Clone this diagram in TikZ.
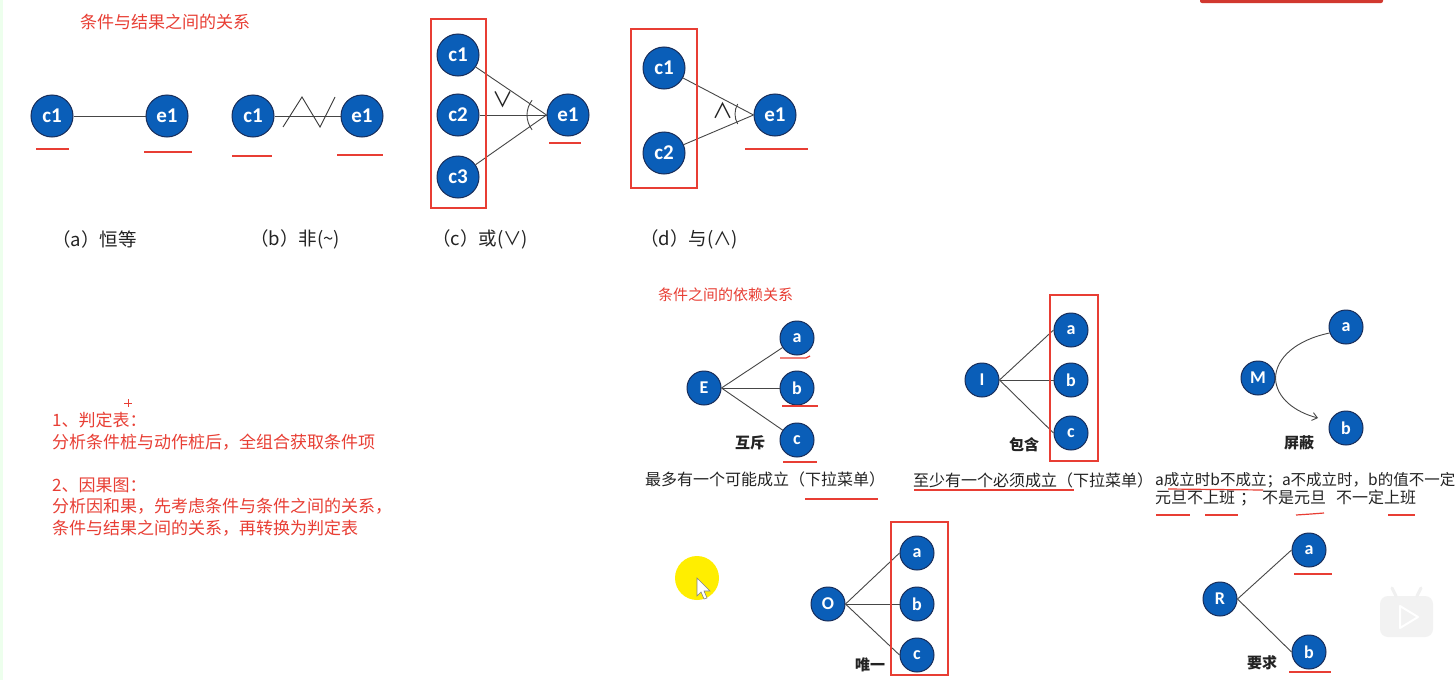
\documentclass[tikz,border=0pt]{standalone}
\usepackage{fontspec}
\setmainfont{Noto Sans CJK SC}
\newfontfamily\cjk{Noto Sans CJK SC}
\newfontfamily\lat{Carlito}
\usetikzlibrary{arrows.meta}
\definecolor{rd}{RGB}{232,62,52}
\definecolor{nodefill}{RGB}{10,94,184}
\definecolor{nodeline}{RGB}{24,45,90}
\definecolor{txt}{RGB}{35,35,35}
\definecolor{ln}{RGB}{70,70,70}
\definecolor{cursorYellow}{RGB}{255,238,0}
\begin{document}
\begin{tikzpicture}[x=1pt,y=-1pt,
  bigc/.style={circle,fill=nodefill,draw=nodeline,line width=1pt,minimum size=42pt,inner sep=0pt,text=white,font=\lat\bfseries\fontsize{21}{21}\selectfont},
  smc/.style={bigc,minimum size=34pt,font=\lat\bfseries\fontsize{18}{18}\selectfont},
  conn/.style={draw=ln,line width=0.9pt},
  ul/.style={draw=rd,line width=1.2pt},
  redbox/.style={draw=rd,line width=1.3pt},
  captxt/.style={font=\cjk\fontsize{18.5}{18.5}\selectfont,text=txt,anchor=west,inner sep=0pt},
  redtxt/.style={font=\cjk\fontsize{17}{17}\selectfont,text=rd,anchor=west,inner sep=0pt},
  desc/.style={font=\cjk\fontsize{16}{16}\selectfont,text=txt,anchor=west,inner sep=0pt},
  tagtxt/.style={font=\cjk\bfseries\fontsize{15}{15}\selectfont,text=txt,inner sep=0pt},
  symtxt/.style={font=\cjk\fontsize{21}{21}\selectfont,text=txt,inner sep=0pt}
]
\useasboundingbox (0,0) rectangle (1456,680);
\fill[white] (0,0) rectangle (1456,680);
\fill[green!7] (0,0) rectangle (3,680);
% top-right red bar
\fill[rd!90!black,rounded corners=2pt] (1200,-4) rectangle (1383,3);

% title
\node[redtxt] (title) at (80,22) {条件与结果之间的关系};

% (a)
\node[bigc] (ac) at (52,116) {c1};
\node[bigc] (ae) at (167,116) {e1};
\draw[conn] (ac) -- (ae);
\draw[ul] (36,149) -- (69,149);
\draw[ul] (144,152) -- (192,152);
\node[captxt] (acap) at (52,239) {（a）恒等};

% (b)
\node[bigc] (bc) at (253,116) {c1};
\node[bigc] (be) at (362,116) {e1};
\draw[conn] (bc) -- (be);
\draw[draw=ln!80!black,line width=0.9pt] (283,127) -- (302,97) -- (320,127) -- (335,97);
\draw[ul] (232,156) -- (272,156);
\draw[ul] (337,155) -- (383,155);
\node[captxt] (bcap) at (250,239) {（b）非(\textasciitilde)};

% (c)
\node[bigc] (cc1) at (458,55) {c1};
\node[bigc] (cc2) at (458,115) {c2};
\node[bigc] (cc3) at (458,177) {c3};
\node[bigc] (ce) at (568,115) {e1};
\draw[conn] (cc1) -- (ce.west);
\draw[conn] (cc2) -- (ce.west);
\draw[conn] (cc3) -- (ce.west);
\draw[conn] (551,115) ++(-142:24) arc[start angle=-142,end angle=-218,radius=24];
\node[symtxt] (cor) at (503,100) {∨};
\draw[redbox] (431,19) rectangle (486,208);
\draw[ul] (549,143) -- (581,143);
\node[captxt] (ccap) at (432,239) {（c）或(∨)};

% (d)
\node[bigc] (dc1) at (664,68) {c1};
\node[bigc] (dc2) at (664,153) {c2};
\node[bigc] (de) at (775,115) {e1};
\draw[conn] (dc1) -- (de.west);
\draw[conn] (dc2) -- (de.west);
\draw[conn] (755,114) ++(-150:20) arc[start angle=-150,end angle=-210,radius=20];
\node[symtxt] (dand) at (723,111) {∧};
\draw[redbox] (631,29) rectangle (697,188);
\draw[ul] (745,149) -- (808,149);
\node[captxt] (dcap) at (640,239) {（d）与(∧)};

% left red notes
\draw[rd,line width=1pt] (124,403) -- (132,403) (128,399) -- (128,407);
\node[redtxt] (n1) at (52,420) {1、判定表：};
\node[redtxt] (n2) at (52,442) {分析条件桩与动作桩后，全组合获取条件项};
\node[redtxt] (n3) at (52,485) {2、因果图：};
\node[redtxt] (n4) at (52,506) {分析因和果，先考虑条件与条件之间的关系，};
\node[redtxt] (n5) at (52,528) {条件与结果之间的关系，再转换为判定表};

% subtitle
\node[redtxt,font=\cjk\fontsize{15}{15}\selectfont] (sub) at (658,295) {条件之间的依赖关系};

% E group
\node[smc] (E) at (704,388) {E};
\node[smc] (Ea) at (797,338) {a};
\node[smc] (Eb) at (797,388) {b};
\node[smc] (Ec) at (797,440) {c};
\draw[conn] (E.east) -- (Ea);
\draw[conn] (E.east) -- (Eb);
\draw[conn] (E.east) -- (Ec);
\draw[ul] (780,358) -- (806,358) -- (810,356);
\draw[ul] (782,406) -- (818,406);
\draw[ul] (783,462) -- (817,462);
\node[tagtxt] (Etag) at (750,443) {互斥};
\node[desc] (Etxt) at (645,479) {最多有一个可能成立（下拉菜单）};
\draw[ul] (805,499) -- (878,499);

% I group
\node[smc] (I) at (982,380) {I};
\node[smc] (Ia) at (1071,330) {a};
\node[smc] (Ib) at (1071,380) {b};
\node[smc] (Ic) at (1071,433) {c};
\draw[conn] (I.east) -- (Ia.west);
\draw[conn] (I.east) -- (Ib.west);
\draw[conn] (I.east) -- (Ic.west);
\draw[redbox] (1050,295) rectangle (1098,461);
\node[tagtxt] (Itag) at (1024,445) {包含};
\node[desc] (Itxt) at (913,480) {至少有一个必须成立（下拉菜单）};
\draw[ul] (914,490) -- (1074,490);

% M group
\node[smc] (M) at (1258,378) {M};
\node[smc] (Ma) at (1346,327) {a};
\node[smc] (Mb) at (1346,428) {b};
\coordinate (Mtip) at (1318,418);
\draw[conn,-{Straight Barb[length=5pt,width=8pt]}] (Ma.200) .. controls (1296,340) and (1276,358) .. (M.east) .. controls (1276,398) and (1295,412) .. (Mtip);
\node[tagtxt] (Mtag) at (1299,443) {屏蔽};
\node[desc,font=\cjk\fontsize{15.5}{15.5}\selectfont] (Mtxt1) at (1155,480) {a成立时b不成立；a不成立时，b的值不一定};
\node[desc] (Mtxt2) at (1155,498) {元旦不上班\hspace{5pt}；\hspace{6pt}不是元旦\hspace{10pt}不一定上班};
\draw[ul] (1168,489) -- (1263,490);
\draw[ul] (1156,515) -- (1190,515);
\draw[ul] (1205,515) -- (1238,515);
\draw[ul] (1296,515) -- (1311,514) -- (1324,513);
\draw[ul] (1388,515) -- (1415,515);

% O group
\fill[cursorYellow] (697,578) circle[radius=22];
\filldraw[fill=white,draw=gray,line width=0.6pt] (697,578) -- (697,596) -- (701,592) -- (704,599) -- (707,598) -- (704,591) -- (710,591) -- cycle;
\node[smc] (O) at (828,604) {O};
\node[smc] (Oa) at (917,553) {a};
\node[smc] (Ob) at (917,604) {b};
\node[smc] (Oc) at (917,655) {c};
\draw[conn] (O.east) -- (Oa.west);
\draw[conn] (O.east) -- (Ob.west);
\draw[conn] (O.east) -- (Oc.west);
\draw[redbox] (891,522) rectangle (948,675);
\node[tagtxt] (Otag) at (870,665) {唯一};

% R group
\node[smc] (R) at (1220,599) {R};
\node[smc] (Ra) at (1309,550) {a};
\node[smc] (Rb) at (1309,652) {b};
\draw[conn] (R.east) -- (Ra.west);
\draw[conn] (R.east) -- (Rb.west);
\draw[ul] (1294,574) -- (1332,574);
\draw[draw=rd,line width=2.2pt] (1289,672) -- (1331,672);
\node[tagtxt] (Rtag) at (1262,663) {要求};

% video overlay icon
\fill[gray!10,rounded corners=8pt] (1380,596) rectangle (1433,637);
\draw[gray!12,line width=3pt,line cap=round] (1396,596) -- (1392,588) (1417,596) -- (1421,588);
\draw[white,line width=2pt,line join=round] (1400,606) -- (1400,628) -- (1418,617) -- cycle;
\end{tikzpicture}
\end{document}
